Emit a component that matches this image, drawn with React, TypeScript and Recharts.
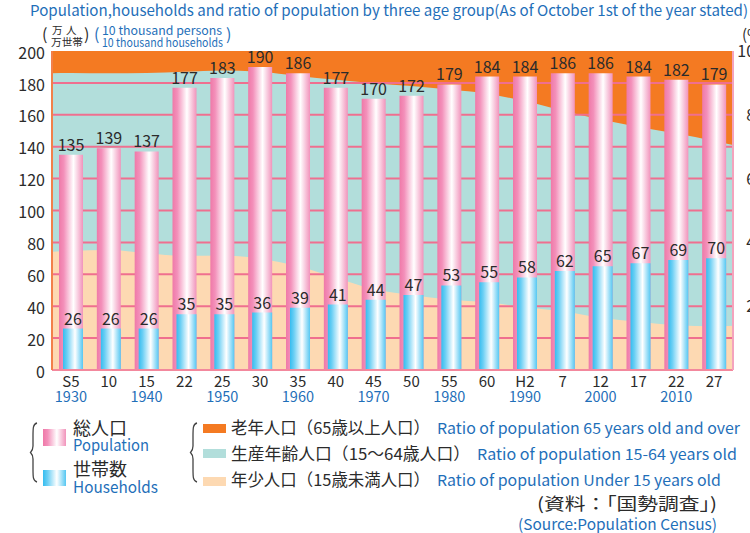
import React from 'react';
import { ComposedChart, Bar, Area, XAxis, YAxis, CartesianGrid, LabelList } from 'recharts';

const FONT = '"Noto Sans CJK JP", "Noto Sans", sans-serif';
const BLUE_TEXT = '#1f6fb9';
const DARK = '#2b2b2b';

// census years (Japanese era) and western years
const categories = ['S5', '10', '15', '22', '25', '30', '35', '40', '45', '50', '55', '60', 'H2', '7', '12', '17', '22', '27'];
const westernYears = ['1930', '', '1940', '', '1950', '', '1960', '', '1970', '', '1980', '', '1990', '', '2000', '', '2010', ''];

// 10 thousand persons / households
const population = [135, 139, 137, 177, 183, 190, 186, 177, 170, 172, 179, 184, 184, 186, 186, 184, 182, 179];
const households = [26, 26, 26, 35, 35, 36, 39, 41, 44, 47, 53, 55, 58, 62, 65, 67, 69, 70];

// age structure in %, read at the left edge, at each census, and at the right edge
const elderlyRatio = [7.0, 6.9, 7.0, 6.9, 6.5, 6.1, 6.5, 7.8, 9.0, 10.1, 11.0, 12.1, 13.4, 15.7, 18.7, 21.5, 23.8, 25.9, 28.2, 29.5];
const youngRatio = [37.1, 37.3, 37.6, 36.6, 35.8, 35.9, 34.9, 32.5, 28.9, 25.3, 23.5, 22.1, 21.2, 19.7, 18.4, 16.4, 15.1, 14.0, 13.7, 13.9];

const leftTicks = [0, 20, 40, 60, 80, 100, 120, 140, 160, 180, 200];
const rightTicks = [0, 20, 40, 60, 80, 100];
const gridValues = [20, 40, 60, 80, 100, 120, 140, 160, 180];

const barData = categories.map((c, i) => ({
    name: c,
    population: population[i],
    households: households[i],
}));

const areaPos = [0, ...categories.map((_, i) => i + 0.5), categories.length];
const areaData = areaPos.map((x, i) => ({
    x,
    full: 100,
    upper: 100 - elderlyRatio[i],
    young: youngRatio[i],
}));

const XTick = (props: any) => {
    const { x, y, payload, index } = props;
    const year = westernYears[index];
    return (
        <g>
            <text x={x} y={y + 17} textAnchor="middle" fontSize={15} fill={DARK} fontFamily={FONT}>
                {payload.value}
            </text>
            {year ? (
                <text x={x} y={y + 32} textAnchor="middle" fontSize={14.5} fill={BLUE_TEXT} fontFamily={FONT}>
                    {year}
                </text>
            ) : null}
        </g>
    );
};

const RightTick = (props: any) => {
    const { x, y, payload } = props;
    return (
        <text x={x + 31} y={y + 6} textAnchor="end" fontSize={16} fill={DARK} fontFamily={FONT}>
            {payload.value}
        </text>
    );
};

const T = (props: any) => {
    const { x, y, size, color = DARK, len, anchor = 'start', children } = props;
    return (
        <text
            x={x}
            y={y}
            fontSize={size}
            fill={color}
            fontFamily={FONT}
            textAnchor={anchor}
            textLength={len}
            lengthAdjust={len ? 'spacingAndGlyphs' : undefined}
        >
            {children}
        </text>
    );
};

const bracePath = (dx: number) =>
    `M${37 + dx},423 C${33 + dx},424 ${33 + dx},428 ${33 + dx},436 L${33 + dx},446 C${33 + dx},450 ${32 + dx},451 ${30.5 + dx},452.5 ` +
    `C${32 + dx},454 ${33 + dx},455 ${33 + dx},459 L${33 + dx},469 C${33 + dx},477 ${33 + dx},481 ${37 + dx},482`;

const App = () => {
    return (
        <div style={{ position: 'fixed', left: 0, top: 0, width: 750, height: 533, overflow: 'hidden', background: '#fff' }}>
            <svg width={0} height={0} style={{ position: 'absolute' }}>
                <defs>
                    <linearGradient id="pinkGrad" x1="0" y1="0" x2="1" y2="0">
                        <stop offset="0" stopColor="#ef79a8" />
                        <stop offset="0.2" stopColor="#f390ba" />
                        <stop offset="0.6" stopColor="#ffffff" />
                        <stop offset="1" stopColor="#f193bb" />
                    </linearGradient>
                    <linearGradient id="blueGrad" x1="0" y1="0" x2="1" y2="0">
                        <stop offset="0" stopColor="#35bdf0" />
                        <stop offset="0.2" stopColor="#6ccff4" />
                        <stop offset="0.6" stopColor="#ffffff" />
                        <stop offset="1" stopColor="#55c7f2" />
                    </linearGradient>
                </defs>
            </svg>

            <div style={{ position: 'absolute', left: 0, top: 0 }}>
                <ComposedChart
                    width={750}
                    height={533}
                    data={barData}
                    barGap={-20}
                    margin={{ top: 51, right: 0, left: 0, bottom: 123 }}
                >
                    <XAxis xAxisId="pos" type="number" dataKey="x" domain={[0, 18]} allowDataOverflow hide />
                    <XAxis
                        xAxisId="cat"
                        dataKey="name"
                        height={40}
                        interval={0}
                        tickLine={false}
                        tickSize={0}
                        tickMargin={0}
                        axisLine={{ stroke: '#f3889d', strokeWidth: 2 }}
                        tick={<XTick />}
                    />
                    <YAxis
                        yAxisId="num"
                        domain={[0, 200]}
                        ticks={leftTicks}
                        width={52}
                        tickLine={false}
                        tickSize={0}
                        tickMargin={7}
                        axisLine={{ stroke: '#f2804a', strokeWidth: 2 }}
                        tick={{ fill: DARK, fontSize: 16, fontFamily: FONT, dy: 2 }}
                    />
                    <YAxis
                        yAxisId="pct"
                        orientation="right"
                        domain={[0, 100]}
                        ticks={rightTicks}
                        width={17}
                        tickLine={false}
                        tickSize={0}
                        tickMargin={0}
                        axisLine={{ stroke: '#f4a3bd', strokeWidth: 2 }}
                        tick={<RightTick />}
                    />

                    <Area
                        data={areaData}
                        xAxisId="pos"
                        yAxisId="pct"
                        dataKey="full"
                        type="linear"
                        stroke="none"
                        fill="#f47a22"
                        fillOpacity={1}
                        dot={false}
                        activeDot={false}
                        isAnimationActive={false}
                    />
                    <Area
                        data={areaData}
                        xAxisId="pos"
                        yAxisId="pct"
                        dataKey="upper"
                        type="monotone"
                        stroke="none"
                        fill="#b2dedb"
                        fillOpacity={1}
                        dot={false}
                        activeDot={false}
                        isAnimationActive={false}
                    />
                    <Area
                        data={areaData}
                        xAxisId="pos"
                        yAxisId="pct"
                        dataKey="young"
                        type="monotone"
                        stroke="none"
                        fill="#fdd9b2"
                        fillOpacity={1}
                        dot={false}
                        activeDot={false}
                        isAnimationActive={false}
                    />

                    <CartesianGrid
                        xAxisId="cat"
                        yAxisId="num"
                        vertical={false}
                        horizontalValues={gridValues}
                        stroke="#ef6f8f"
                        strokeWidth={2}
                        zIndex={150}
                    />

                    <Bar
                        xAxisId="cat"
                        yAxisId="num"
                        dataKey="population"
                        barSize={24}
                        fill="url(#pinkGrad)"
                        isAnimationActive={false}
                    >
                        <LabelList dataKey="population" position="top" offset={4} fill={DARK} fontSize={16} fontFamily={FONT} />
                    </Bar>
                    <Bar
                        xAxisId="cat"
                        yAxisId="num"
                        dataKey="households"
                        barSize={20}
                        fill="url(#blueGrad)"
                        isAnimationActive={false}
                    >
                        <LabelList dataKey="households" position="top" offset={4} fill={DARK} fontSize={16} fontFamily={FONT} />
                    </Bar>
                </ComposedChart>
            </div>

            <svg width={750} height={533} style={{ position: 'absolute', left: 0, top: 0, pointerEvents: 'none' }}>
                <T x={30} y={16} size={15} color={BLUE_TEXT} len={718}>
                    Population,households and ratio of population by three age group(As of October 1st of the year stated)
                </T>

                {/* unit labels */}
                <T x={42} y={40} size={16}>(</T>
                <T x={52} y={34} size={10.5}>万</T>
                <T x={66} y={34} size={10.5}>人</T>
                <T x={51} y={45.5} size={10.5} len={32}>万世帯</T>
                <T x={84} y={40} size={16}>)</T>
                <T x={94} y={40} size={16} color={BLUE_TEXT}>(</T>
                <T x={102} y={35} size={12} color={BLUE_TEXT} len={120}>10 thousand persons</T>
                <T x={102} y={46.5} size={12} color={BLUE_TEXT} len={121}>10 thousand households</T>
                <T x={226} y={40} size={16} color={BLUE_TEXT}>)</T>
                <T x={742} y={40} size={15}>(%)</T>

                {/* legend: bars */}
                <path d={bracePath(0)} fill="none" stroke="#444" strokeWidth={1.3} />
                <rect x={43} y={429} width={23} height={17} fill="url(#pinkGrad)" />
                <rect x={43} y={470} width={23} height={16} fill="url(#blueGrad)" />
                <T x={73} y={435} size={18} len={54}>総人口</T>
                <T x={73} y={451} size={16} color={BLUE_TEXT} len={76}>Population</T>
                <T x={73} y={476} size={18} len={54}>世帯数</T>
                <T x={73} y={493} size={16} color={BLUE_TEXT} len={85}>Households</T>

                {/* legend: age groups */}
                <path d={bracePath(160)} fill="none" stroke="#444" strokeWidth={1.3} />
                <rect x={203} y={424} width={23} height={9} fill="#f47a22" />
                <rect x={203} y={449} width={23} height={9} fill="#b2dedb" />
                <rect x={203} y={477} width={23} height={9} fill="#fdd9b2" />
                <T x={231} y={434} size={16.5} len={199}>老年人口（65歳以上人口）</T>
                <T x={437} y={434} size={15} color={BLUE_TEXT} len={303}>Ratio of population 65 years old and over</T>
                <T x={231} y={460} size={16.5} len={239}>生産年齢人口（15〜64歳人口）</T>
                <T x={477} y={460} size={15} color={BLUE_TEXT} len={260}>Ratio of population 15-64 years old</T>
                <T x={231} y={486} size={16.5} len={199}>年少人口（15歳未満人口）</T>
                <T x={437} y={486} size={15} color={BLUE_TEXT} len={284}>Ratio of population Under 15 years old</T>

                <T x={537} y={510} size={17} len={180}>(資料：「国勢調査」)</T>
                <T x={518} y={530} size={15} color={BLUE_TEXT} len={199}>(Source:Population Census)</T>
            </svg>
        </div>
    );
};

export default App;
